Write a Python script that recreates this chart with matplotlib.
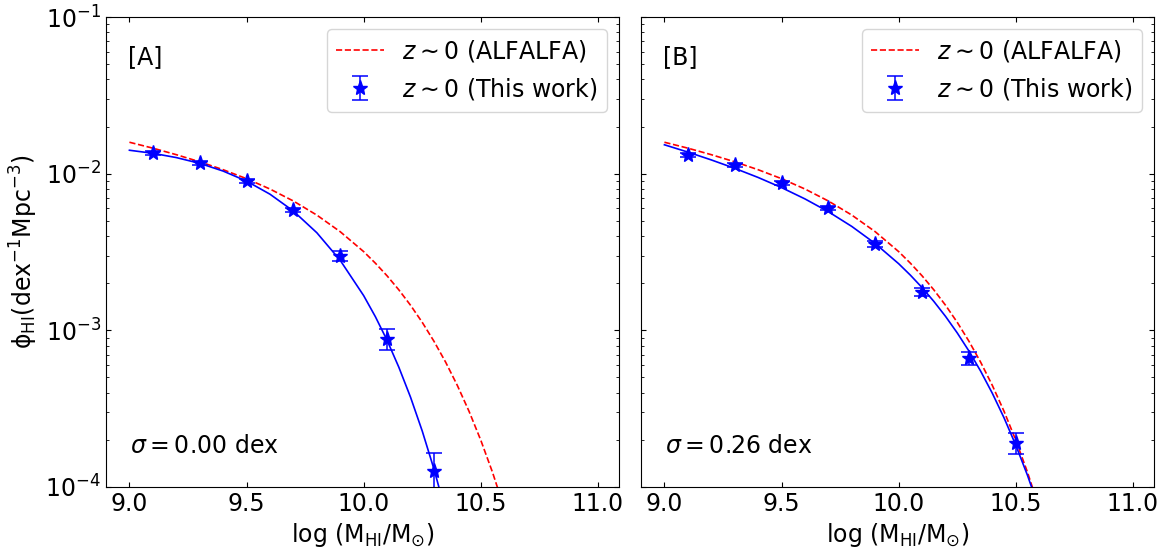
import numpy as np
import matplotlib
matplotlib.use("Agg")
import matplotlib.pyplot as plt

# HI mass bins (log M_HI / M_sun)
logm_a = [9.1, 9.3, 9.5, 9.7, 9.9, 10.1, 10.3]
phi_a = [1.349e-2, 1.172e-2, 9.02e-3, 5.88e-3, 2.98e-3, 8.85e-4, 1.26e-4]
err_a = [4.0e-4, 3.5e-4, 2.7e-4, 1.8e-4, 2.1e-4, 1.4e-4, 4.0e-5]

logm_b = [9.1, 9.3, 9.5, 9.7, 9.9, 10.1, 10.3, 10.5]
phi_b = [1.324e-2, 1.130e-2, 8.75e-3, 6.03e-3, 3.57e-3, 1.754e-3, 6.64e-4, 1.92e-4]
err_b = [4.0e-4, 3.4e-4, 2.6e-4, 1.8e-4, 1.5e-4, 1.0e-4, 6.0e-5, 2.9e-5]

# ALFALFA mass function
alfalfa_m = [9.0, 9.1, 9.2, 9.3, 9.4, 9.5, 9.6, 9.7, 9.8, 9.9, 10.0, 10.05,
             10.1, 10.15, 10.2, 10.25, 10.3, 10.35, 10.4, 10.45, 10.5, 10.55, 10.6]
alfalfa_phi = [1.587e-2, 1.455e-2, 1.322e-2, 1.191e-2, 1.060e-2, 9.29e-3, 7.98e-3,
               6.69e-3, 5.44e-3, 4.26e-3, 3.18e-3, 2.683e-3, 2.227e-3, 1.814e-3,
               1.446e-3, 1.125e-3, 8.52e-4, 6.26e-4, 4.445e-4, 3.038e-4, 1.989e-4,
               1.241e-4, 7.33e-5]

# best-fit curves
fit_m_a = [9.0, 9.1, 9.2, 9.3, 9.4, 9.5, 9.6, 9.7, 9.8, 9.9, 10.0, 10.05,
           10.1, 10.15, 10.2, 10.25, 10.3, 10.35]
fit_phi_a = [1.411e-2, 1.349e-2, 1.267e-2, 1.164e-2, 1.039e-2, 8.965e-3, 7.396e-3,
             5.771e-3, 4.198e-3, 2.796e-3, 1.665e-3, 1.222e-3, 8.63e-4, 5.82e-4,
             3.745e-4, 2.277e-4, 1.303e-4, 6.94e-5]

fit_m_b = [9.0, 9.1, 9.2, 9.3, 9.4, 9.5, 9.6, 9.7, 9.8, 9.9, 10.0, 10.05,
           10.1, 10.15, 10.2, 10.25, 10.3, 10.35, 10.4, 10.45, 10.5, 10.55, 10.6]
fit_phi_b = [1.529e-2, 1.373e-2, 1.224e-2, 1.082e-2, 9.458e-3, 8.148e-3, 6.899e-3,
             5.716e-3, 4.603e-3, 3.579e-3, 2.662e-3, 2.250e-3, 1.873e-3, 1.531e-3,
             1.228e-3, 9.63e-4, 7.375e-4, 5.486e-4, 3.96e-4, 2.76e-4, 1.849e-4,
             1.186e-4, 7.24e-5]

panels = [
    ("[A]", r"$\sigma = 0.00$ dex", logm_a, phi_a, err_a, fit_m_a, fit_phi_a),
    ("[B]", r"$\sigma = 0.26$ dex", logm_b, phi_b, err_b, fit_m_b, fit_phi_b),
]

fs = 17
fig = plt.figure(figsize=(11.64, 5.48), dpi=100)
lefts = [106 / 1164, 641 / 1164]

for i, (tag, sig, m, phi, err, fm, fphi) in enumerate(panels):
    ax = fig.add_axes([lefts[i], 61 / 548, 513 / 1164, 470 / 548])
    ax.plot(alfalfa_m, alfalfa_phi, "r--", lw=1.2, label=r"$z\sim0$ (ALFALFA)")
    ax.plot(fm, fphi, "b-", lw=1.2)
    ax.errorbar(m, phi, yerr=err, fmt="*", color="blue", ms=11, capsize=6,
                elinewidth=1.1, capthick=1.1, label=r"$z\sim0$ (This work)")
    ax.set_yscale("log")
    ax.set_xlim(8.9, 11.09)
    ax.set_ylim(1e-4, 1e-1)
    ax.set_xticks([9.0, 9.5, 10.0, 10.5, 11.0])
    ax.tick_params(which="both", direction="in", top=True, right=True, labelsize=fs)
    ax.text(0.043, 0.915, tag, transform=ax.transAxes, fontsize=fs, va="center")
    ax.text(0.047, 0.087, sig, transform=ax.transAxes, fontsize=fs, va="center")
    ax.set_xlabel(r"log (M$_{\rm HI}$/M$_{\odot}$)", fontsize=fs)
    ax.legend(loc="upper right", fontsize=fs)
    if i == 0:
        ax.set_ylabel(r"$\rm \phi_{HI} (dex^{-1}Mpc^{-3})$", fontsize=fs)
    else:
        ax.tick_params(labelleft=False)

fig.savefig("out.png", dpi=100)
